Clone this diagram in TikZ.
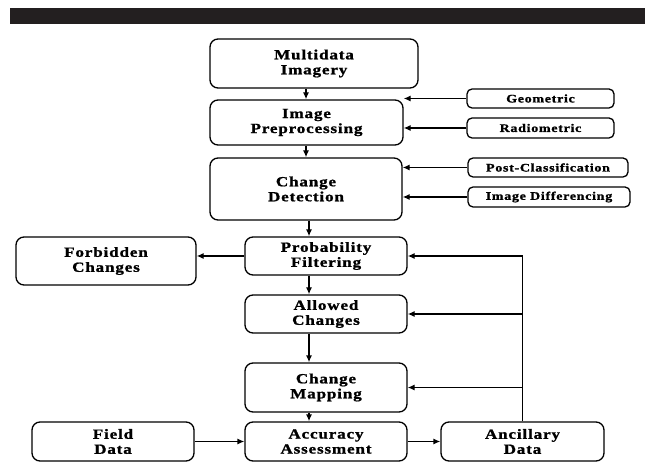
\documentclass[tikz,border=0pt]{standalone}
\usepackage{fontspec}
\newfontfamily\diafont[FakeStretch=1.22,LetterSpace=6,FakeBold=1.2]{Liberation Serif}
\usetikzlibrary{arrows.meta}
\begin{document}
\begin{tikzpicture}[x=1pt,y=-1pt,
  box/.style={draw,line width=1.3pt,rounded corners=8pt,align=center,inner sep=0pt,
    font=\diafont\bfseries\fontsize{14}{15}\selectfont},
  sbox/.style={draw,line width=1.3pt,rounded corners=5pt,align=center,inner sep=0pt,
    font=\diafont\bfseries\fontsize{11.5}{12}\selectfont},
  arr/.style={line width=1.3pt,-{Latex[length=7pt,width=6pt]}},
  ln/.style={line width=1.3pt}]
\useasboundingbox (0,0) rectangle (645,462);
\fill[fill={rgb,255:red,35;green,31;blue,32}] (10,8) rectangle (645,24);
% main column
\node[box,minimum width=208pt,minimum height=49pt] (multi) at (314,63.5) {Multidata\\Imagery};
\node[box,minimum width=193pt,minimum height=45pt] (prep) at (306.5,122.5) {Image\\Preprocessing};
\node[box,minimum width=192pt,minimum height=62pt] (cd) at (306,189) {Change\\Detection};
\node[box,minimum width=162pt,minimum height=38pt] (prob) at (326,256) {Probability\\Filtering};
\node[box,minimum width=162pt,minimum height=38pt] (allow) at (326,314) {Allowed\\Changes};
\node[box,minimum width=162pt,minimum height=49pt] (map) at (326,387.5) {Change\\Mapping};
\node[box,minimum width=162pt,minimum height=39pt] (acc) at (326,441.5) {Accuracy\\Assessment};
% side boxes
\node[box,minimum width=180pt,minimum height=48pt] (forb) at (106,261) {Forbidden\\Changes};
\node[box,minimum width=162pt,minimum height=39pt] (field) at (113,441.5) {Field\\Data};
\node[box,minimum width=163pt,minimum height=39pt] (anc) at (522.5,441.5) {Ancillary\\Data};
\node[sbox,minimum width=147pt,minimum height=19pt] (geo) at (540.5,98.5) {Geometric};
\node[sbox,minimum width=147pt,minimum height=20pt] (radio) at (540.5,128) {Radiometric};
\node[sbox,minimum width=160pt,minimum height=19pt] (post) at (548,167.5) {Post-Classification};
\node[sbox,minimum width=162pt,minimum height=20pt] (diff) at (549,197) {Image Differencing};
% vertical flow
\coordinate (ax) at (306,0);
\coordinate (bx) at (309,0);
\draw[arr] (multi.south -| ax) -- (prep.north -| ax);
\draw[arr] (prep.south -| ax) -- (cd.north -| ax);
\draw[arr] (cd.south -| bx) -- (prob.north -| bx);
\draw[arr] (prob.south -| bx) -- (allow.north -| bx);
\draw[arr] (allow.south -| bx) -- (map.north -| bx);
\draw[arr] (map.south -| bx) -- (acc.north -| bx);
% side inputs
\draw[arr] (geo.west) -- (geo.west -| prep.east);
\draw[arr] (radio.west) -- (radio.west -| prep.east);
\draw[arr] (post.west) -- (post.west -| cd.east);
\draw[arr] (diff.west) -- (diff.west -| cd.east);
\draw[arr] (prob.west) -- (prob.west -| forb.east);
\draw[arr] (field.east) -- (acc.west);
\draw[arr] (acc.east) -- (anc.west);
% ancillary feedback
\draw[arr] (anc.north) |- (prob.east);
\coordinate (ja) at (anc.north |- allow.east);
\coordinate (jm) at (anc.north |- map.east);
\draw[arr] (ja) -- (allow.east);
\draw[arr] (jm) -- (map.east);
\end{tikzpicture}
\end{document}
